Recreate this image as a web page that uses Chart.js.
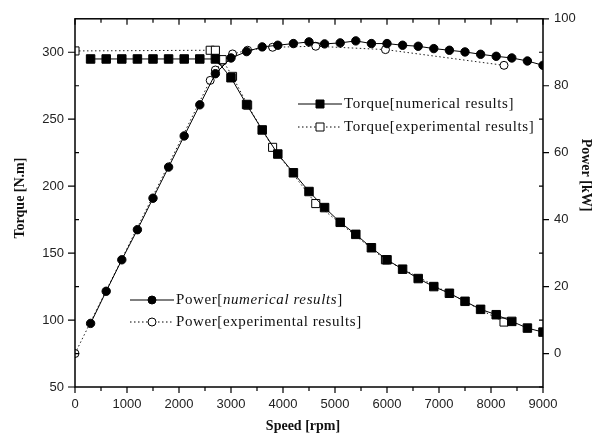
<!DOCTYPE html>
<html>
<head>
<meta charset="utf-8">
<script src="https://cdn.jsdelivr.net/npm/chart.js@4"></script>
<style>
  html, body { margin: 0; padding: 0; background: #fff; }
  canvas { display: block; }
</style>
</head>
<body>
<canvas id="speedChart" width="603" height="439"></canvas>
<script>
// numerical results (every 300 rpm)
const rpmNum = [300, 600, 900, 1200, 1500, 1800, 2100, 2400, 2700, 3000,
  3300, 3600, 3900, 4200, 4500, 4800, 5100, 5400, 5700, 6000,
  6300, 6600, 6900, 7200, 7500, 7800, 8100, 8400, 8700, 9000];
const torqueNum = [295, 295, 295, 295, 295, 295, 295, 295, 295, 281,
  261, 242, 224, 210, 196, 184, 173, 164, 154, 145,
  138, 131, 125, 120, 114, 108, 104, 99, 94, 91];
const powerNum = [9.0, 18.6, 28, 37, 46.4, 55.7, 65, 74.3, 83.6, 88.3,
  90.2, 91.6, 92.1, 92.6, 93.1, 92.5, 92.8, 93.4, 92.6, 92.6,
  92.1, 91.8, 91.1, 90.6, 90.1, 89.4, 88.8, 88.3, 87.4, 86.1];

// experimental results
const rpmExp = [0, 2600, 2700, 2830, 3030, 3320, 3800, 4630, 5970, 8250];
const torqueExp = [301, 301.5, 301.5, 294.5, 282, 260.5, 229, 187, 145, 98.5];
const powerExp = [0, 81.6, 84.7, 87.3, 89.5, 90.6, 91.5, 91.8, 90.8, 86.1];

// axis ticks
const speedTicks = [0, 1000, 2000, 3000, 4000, 5000, 6000, 7000, 8000, 9000];
const speedMinor = [500, 1500, 2500, 3500, 4500, 5500, 6500, 7500, 8500];
const torqueTicks = [50, 100, 150, 200, 250, 300];
const torqueMinor = [75, 125, 175, 225, 275];
const powerTicks = [0, 20, 40, 60, 80, 100];
const powerMinor = [-10, 10, 30, 50, 70, 90];

const pts = (xs, ys) => xs.map((x, i) => ({ x: x, y: ys[i] }));
const serif = '"Liberation Serif", "DejaVu Serif", serif';
const sans = '"Liberation Sans", Arial, sans-serif';

function marker(ctx, kind, x, y) {
  ctx.save();
  ctx.lineWidth = 1;
  ctx.strokeStyle = "#000";
  ctx.beginPath();
  if (kind === "sq" || kind === "osq") ctx.rect(x - 4, y - 4, 8, 8);
  else ctx.arc(x, y, 4, 0, Math.PI * 2);
  ctx.fillStyle = kind[0] === "o" ? "#fff" : "#000";
  ctx.fill();
  ctx.stroke();
  ctx.restore();
}

function legendRow(ctx, x, y, kind, dashed, parts) {
  ctx.save();
  ctx.strokeStyle = "#000";
  ctx.lineWidth = 1;
  if (dashed) ctx.setLineDash([1.5, 2.5]);
  ctx.beginPath();
  ctx.moveTo(x, y);
  ctx.lineTo(x + 44, y);
  ctx.stroke();
  ctx.setLineDash([]);
  marker(ctx, kind, x + 22, y);
  let tx = x + 46;
  ctx.fillStyle = "#111";
  ctx.textBaseline = "middle";
  ctx.letterSpacing = "0.6px";
  parts.forEach(p => {
    ctx.font = (p.italic ? "italic " : "") + "15px " + serif;
    ctx.fillText(p.t, tx, y);
    tx += ctx.measureText(p.t).width;
  });
  ctx.restore();
}

const framePlugin = {
  id: "frame",
  afterDraw(chart) {
    const ctx = chart.ctx;
    const a = chart.chartArea;
    const sx = chart.scales.x, sy = chart.scales.y, sp = chart.scales.y1;
    ctx.save();
    ctx.strokeStyle = "#000";
    ctx.lineWidth = 1.5;
    ctx.strokeRect(a.left, a.top, a.right - a.left, a.bottom - a.top);
    ctx.lineWidth = 1.2;
    ctx.beginPath();
    const tickX = (vals, len) => vals.forEach(v => {
      const p = sx.getPixelForValue(v);
      ctx.moveTo(p, a.bottom); ctx.lineTo(p, a.bottom + len);
      ctx.moveTo(p, a.top); ctx.lineTo(p, a.top + len);
    });
    tickX(speedTicks, 6);
    tickX(speedMinor, 4);
    torqueTicks.forEach(v => { const p = sy.getPixelForValue(v); ctx.moveTo(a.left - 7, p); ctx.lineTo(a.left, p); });
    torqueMinor.forEach(v => { const p = sy.getPixelForValue(v); ctx.moveTo(a.left + 4, p); ctx.lineTo(a.left, p); });
    powerTicks.forEach(v => { const p = sp.getPixelForValue(v); ctx.moveTo(a.right, p); ctx.lineTo(a.right + 6, p); });
    powerMinor.forEach(v => { const p = sp.getPixelForValue(v); ctx.moveTo(a.right - 4, p); ctx.lineTo(a.right, p); });
    ctx.stroke();

    // axis titles
    ctx.fillStyle = "#111";
    ctx.font = "bold 14px " + serif;
    ctx.textAlign = "center";
    ctx.textBaseline = "middle";
    ctx.fillText("Speed [rpm]", 303, 426);
    ctx.save();
    ctx.translate(20, 198);
    ctx.rotate(-Math.PI / 2);
    ctx.fillText("Torque [N.m]", 0, 0);
    ctx.restore();
    ctx.save();
    ctx.translate(586, 175);
    ctx.rotate(Math.PI / 2);
    ctx.fillText("Power [kW]", 0, 0);
    ctx.restore();
    ctx.restore();

    // legends
    legendRow(ctx, 298, 104, "sq", false, [{ t: "Torque[numerical results]" }]);
    legendRow(ctx, 298, 127, "osq", true, [{ t: "Torque[experimental results]" }]);
    legendRow(ctx, 130, 300, "ci", false, [{ t: "Power[" }, { t: "numerical results", italic: true }, { t: "]" }]);
    legendRow(ctx, 130, 322, "oci", true, [{ t: "Power[experimental results]" }]);
  }
};

const axisGrid = { display: false, drawTicks: false };

const ctx = document.getElementById("speedChart").getContext("2d");
const speedChart = new Chart(ctx, {
  type: "scatter",
  data: {
    datasets: [
      {
        label: "Torque[numerical results]",
        data: pts(rpmNum, torqueNum),
        yAxisID: "y",
        showLine: true,
        borderColor: "#000",
        backgroundColor: "#000",
        borderWidth: 1,
        pointStyle: "rect",
        pointRadius: 6,
        pointBorderWidth: 1,
        order: 0,
      },
      {
        label: "Torque[experimental results]",
        data: pts(rpmExp, torqueExp),
        yAxisID: "y",
        showLine: true,
        borderColor: "#222",
        borderDash: [1.5, 2.5],
        borderWidth: 1,
        backgroundColor: "#fff",
        pointStyle: "rect",
        pointRadius: 5.7,
        pointBorderColor: "#000",
        pointBorderWidth: 1,
        order: 2,
      },
      {
        label: "Power[numerical results]",
        data: pts(rpmNum, powerNum),
        yAxisID: "y1",
        showLine: true,
        borderColor: "#000",
        backgroundColor: "#000",
        borderWidth: 1,
        pointStyle: "circle",
        pointRadius: 4.2,
        pointBorderWidth: 1,
        order: 1,
      },
      {
        label: "Power[experimental results]",
        data: pts(rpmExp, powerExp),
        yAxisID: "y1",
        showLine: true,
        borderColor: "#222",
        borderDash: [1.5, 2.5],
        borderWidth: 1,
        backgroundColor: "#fff",
        pointStyle: "circle",
        pointRadius: 4,
        pointBorderColor: "#000",
        pointBorderWidth: 1,
        order: 3,
      },
    ],
  },
  options: {
    responsive: false,
    animation: false,
    layout: { padding: { top: 15, left: 0, right: 0, bottom: 0 } },
    plugins: {
      legend: { display: false },
      tooltip: { enabled: false },
    },
    scales: {
      x: {
        type: "linear",
        min: 0,
        max: 9000,
        grid: axisGrid,
        border: { display: false },
        afterBuildTicks: s => { s.ticks = speedTicks.map(v => ({ value: v })); },
        afterFit: s => { s.height = 52; },
        ticks: {
          padding: 10,
          color: "#222",
          font: { family: sans, size: 13 },
          maxRotation: 0,
          callback: v => String(v),
        },
      },
      y: {
        type: "linear",
        position: "left",
        min: 50,
        max: 325,
        grid: axisGrid,
        border: { display: false },
        afterBuildTicks: s => { s.ticks = torqueTicks.map(v => ({ value: v })); },
        afterFit: s => { s.width = 75; },
        ticks: {
          padding: 11,
          color: "#222",
          font: { family: sans, size: 13 },
        },
      },
      y1: {
        type: "linear",
        position: "right",
        min: -10,
        max: 100,
        grid: axisGrid,
        border: { display: false },
        afterBuildTicks: s => { s.ticks = powerTicks.map(v => ({ value: v })); },
        afterFit: s => { s.width = 60; },
        ticks: {
          padding: 11,
          color: "#222",
          font: { family: sans, size: 13 },
        },
      },
    },
  },
  plugins: [framePlugin],
});
</script>
</body>
</html>
